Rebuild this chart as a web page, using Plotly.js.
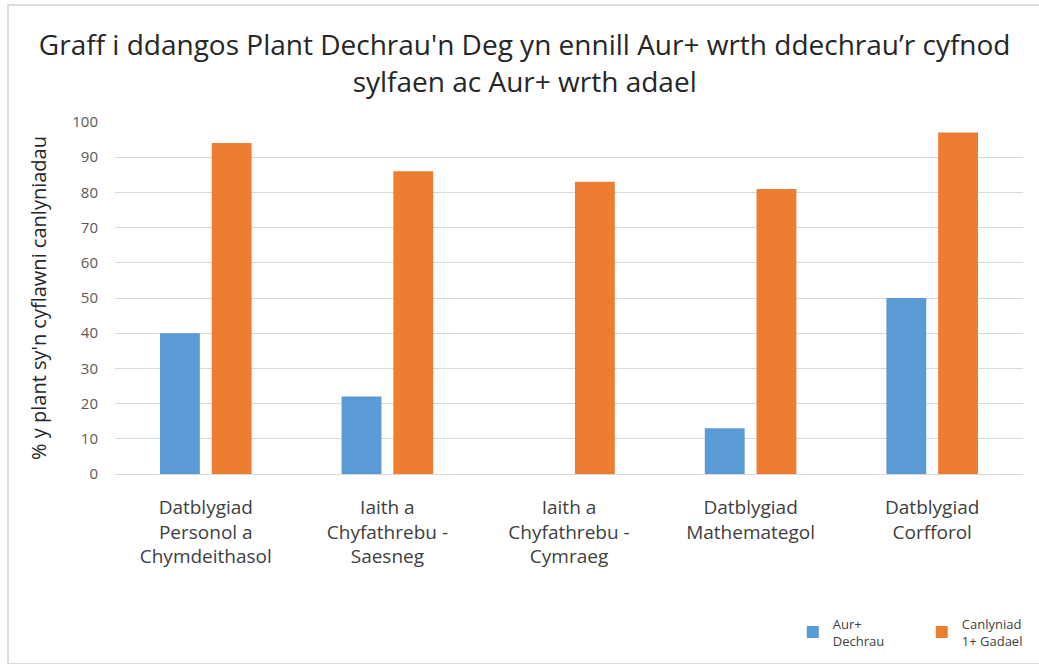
<!DOCTYPE html>
<html>
<head>
<meta charset="utf-8">
<script src="https://cdn.plot.ly/plotly-3.0.1.min.js"></script>
<style>
  html, body { margin: 0; padding: 0; background: #ffffff; }
  #frame { position: absolute; left: 7px; top: 4px; width: 1032px; height: 657px;
           border-left: 2px solid #dcdcdc; border-top: 2px solid #dcdcdc; border-bottom: 2px solid #dcdcdc; }
  #chart { position: absolute; left: 0; top: 0; width: 1039px; height: 664px; }
</style>
</head>
<body>
<div id="frame"></div>
<div id="chart"></div>
<script>
const categories = [
  "Datblygiad<br>Personol a<br>Chymdeithasol",
  "Iaith a<br>Chyfathrebu -<br>Saesneg",
  "Iaith a<br>Chyfathrebu -<br>Cymraeg",
  "Datblygiad<br>Mathemategol",
  "Datblygiad<br>Corfforol"
];
const seriesNames = ["Aur+<br>Dechrau", "Canlyniad<br>1+ Gadael"];
const aurDechrau = [40, 22, 0, 13, 50];
const canlyniadGadael = [94, 86, 83, 81, 97];
const yTicks = [0, 10, 20, 30, 40, 50, 60, 70, 80, 90, 100];

const FONT = "Open Sans, Liberation Sans, sans-serif";

const data = [
  { type: "bar", name: seriesNames[0], x: categories, y: aurDechrau,
    marker: { color: "#5B9BD5" } },
  { type: "bar", name: seriesNames[1], x: categories, y: canlyniadGadael,
    marker: { color: "#ED7D31" } }
];

const layout = {
  width: 1039, height: 664,
  paper_bgcolor: "rgba(0,0,0,0)",
  plot_bgcolor: "rgba(0,0,0,0)",
  margin: { l: 115, r: 16, t: 122, b: 190, autoexpand: false },
  barmode: "group",
  bargap: 0.43,
  bargroupgap: 0.23,
  title: {
    text: "Graff i ddangos Plant Dechrau'n Deg yn ennill Aur+ wrth ddechrau’r cyfnod<br>sylfaen ac Aur+ wrth adael",
    font: { family: FONT, size: 28, color: "#262626" },
    x: 0.505, xanchor: "center", xref: "container",
    y: 0.917, yanchor: "middle", yref: "container"
  },
  xaxis: {
    type: "category",
    tickfont: { family: FONT, size: 19, color: "#404040" },
    showgrid: false, zeroline: false, showline: false,
    ticks: "", ticklabelstandoff: 20
  },
  yaxis: {
    range: [0, 100],
    tickvals: yTicks,
    ticktext: yTicks.map(String),
    tickfont: { family: FONT, size: 15, color: "#595959" },
    showgrid: true, gridcolor: "#d9d9d9", gridwidth: 1,
    zeroline: true, zerolinecolor: "#d9d9d9", zerolinewidth: 1,
    showline: false, ticks: "", ticklabelstandoff: 16,
    title: { text: "% y plant sy'n cyflawni canlyniadau",
             font: { family: FONT, size: 20, color: "#262626" }, standoff: 20 }
  },
  legend: {
    orientation: "h",
    xref: "container", yref: "container",
    x: 0.763, xanchor: "left",
    y: 0.048, yanchor: "middle",
    font: { family: FONT, size: 13, color: "#404040" },
    entrywidth: 84,
    itemwidth: 30,
    itemsizing: "constant",
    bgcolor: "rgba(0,0,0,0)"
  },
  showlegend: true
};

Plotly.newPlot("chart", data, layout, { displayModeBar: false, staticPlot: true });
</script>
</body>
</html>
